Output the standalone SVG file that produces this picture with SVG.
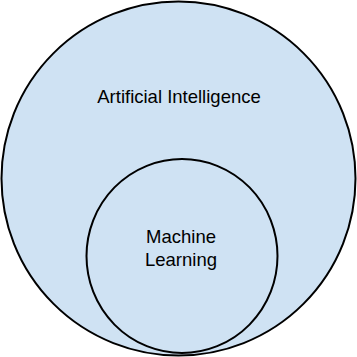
<svg xmlns="http://www.w3.org/2000/svg" width="357" height="357" viewBox="0 0 357 357">
<style>
.c{fill:#cfe2f3;stroke:#000;stroke-width:2}
.t{font-family:"Liberation Sans",Arial,sans-serif;font-size:18.5px;fill:#000;text-anchor:middle}
</style>
<rect width="357" height="357" fill="#fff"/>
<g id="ai">
<circle class="c" cx="178.5" cy="178.5" r="177"/>
<text class="t" x="179" y="102.5">Artificial Intelligence</text>
</g>
<g id="ml">
<ellipse class="c" cx="182" cy="256" rx="95.5" ry="97"/>
<text class="t" x="181" y="243">Machine</text>
<text class="t" x="181" y="265.5">Learning</text>
</g>
<g id="connectors"/>
</svg>
